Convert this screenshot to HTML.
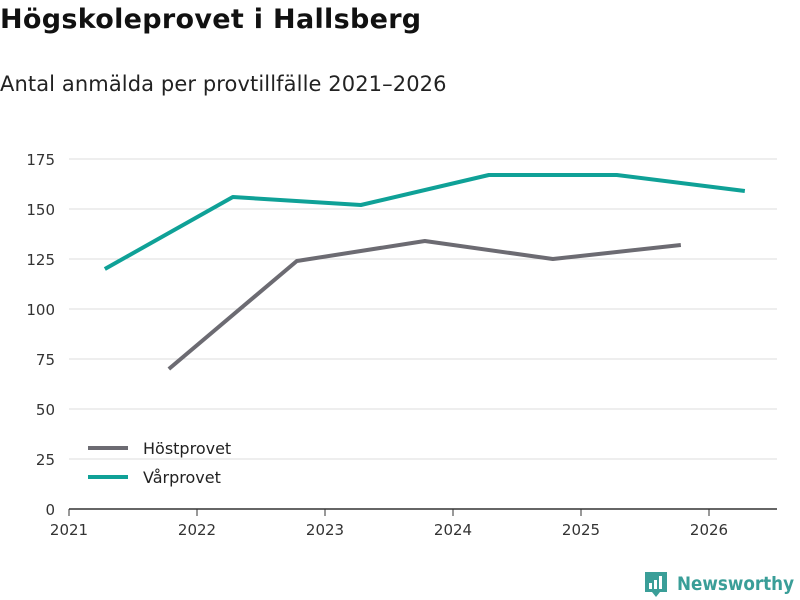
<!DOCTYPE html>
<html><head><meta charset="utf-8"><style>
body{margin:0;width:800px;height:600px;background:#fff;font-family:"DejaVu Sans",sans-serif;overflow:hidden;position:relative}
h1{position:absolute;left:0;top:4px;margin:0;font-size:27px;font-weight:bold;color:#111;letter-spacing:0.3px}
.sub{position:absolute;left:0;top:72px;font-size:21px;color:#222;letter-spacing:0.1px}
svg{position:absolute;left:0;top:0}
</style></head><body>
<h1>Högskoleprovet i Hallsberg</h1>
<div class="sub">Antal anmälda per provtillfälle 2021–2026</div>
<svg id="c" width="800" height="600"></svg>
<script>
const yTicks=[0,25,50,75,100,125,150,175];
const xTicks=[2021,2022,2023,2024,2025,2026];
const hostX=[2021.78,2022.78,2023.78,2024.78,2025.78];
const hostV=[70,124,134,125,132];
const varX=[2021.28,2022.28,2023.28,2024.28,2025.28,2026.28];
const varV=[120,156,152,167,167,159];
const svg=document.getElementById('c');const NS='http://www.w3.org/2000/svg';
const X=v=>69+(v-2021)*128, Y=v=>509-v*2;
function mk(t,a,p){const e=document.createElementNS(NS,t);for(const k in a)e.setAttribute(k,a[k]);(p||svg).appendChild(e);return e;}
yTicks.forEach(v=>{
 const l=mk('line',{x1:69,x2:777,y1:Y(v),y2:Y(v),stroke:v?'#ddd':'#333','stroke-width':v?1:1.5});
 
 const t=mk('text',{x:55,y:Y(v)+6,'text-anchor':'end','font-size':15,fill:'#333','font-family':'DejaVu Sans'});t.textContent=v;
 
});
xTicks.forEach(v=>{
 const l=mk('line',{x1:X(v),x2:X(v),y1:509,y2:516,stroke:'#333'});
 
 const t=mk('text',{x:X(v),y:535,'text-anchor':'middle','font-size':15,fill:'#333','font-family':'DejaVu Sans'});t.textContent=v;
 
});
function line(xs,vs,c,n){const p=mk('polyline',{points:xs.map((x,i)=>X(x)+','+Y(vs[i])).join(' '),fill:'none',stroke:c,'stroke-width':4,'stroke-linejoin':'round'});
 }
line(hostX,hostV,'#6c6b72','line-hostprovet');
line(varX,varV,'#0fa197','line-varprovet');
[['Höstprovet','#6c6b72',448],['Vårprovet','#0fa197',477]].forEach(([n,c,y])=>{
 const g=mk('g',{});
 mk('line',{x1:88,x2:128,y1:y,y2:y,stroke:c,'stroke-width':4},g);
 const t=mk('text',{x:143,y:y+6,'font-size':16,fill:'#222','font-family':'DejaVu Sans'},g);t.textContent=n;
});
const lg=mk('g',{});
mk('path',{d:'M645 572h22v20h-7l-4 5l-4-5h-7z',fill:'#3a9e98'},lg);
mk('rect',{x:649,y:583,width:3,height:6,fill:'#fff'},lg);mk('rect',{x:654,y:580,width:3,height:9,fill:'#fff'},lg);mk('rect',{x:659,y:576,width:3,height:13,fill:'#fff'},lg);
const lt=mk('text',{x:677,y:590,'font-size':19,'font-weight':'bold',fill:'#3a9e98','font-family':'DejaVu Sans',textLength:117,lengthAdjust:'spacingAndGlyphs'},lg);lt.textContent='Newsworthy';
</script>
</body></html>
